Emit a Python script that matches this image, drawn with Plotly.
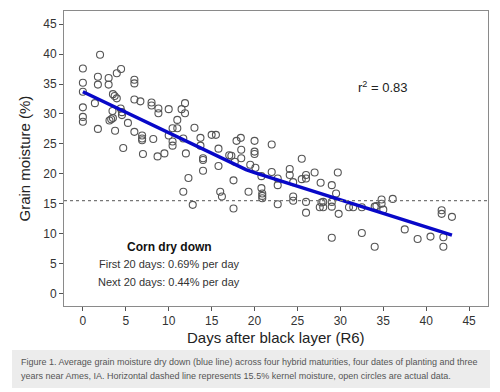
import plotly.graph_objects as go

# Observed data (days after black layer, grain moisture %)
days = [0, 0, 0, 0, 0, 0,
        1.4, 1.75, 1.75, 1.75, 2.0, 3.0, 3.0, 3.1, 3.3, 3.45, 3.5, 3.5, 3.7, 3.75,
        3.95, 3.95, 4.45, 4.4, 4.55, 4.55, 4.7, 5.25,
        6.0, 6.0, 6.0, 6.0, 6.7, 6.9, 6.9, 6.9, 7.0,
        8.0, 8.0, 8.2, 8.8, 8.8, 8.7, 9.5,
        10.0, 10.0, 10.45, 10.45, 10.45, 11.0, 11.0, 11.5, 11.9, 11.9, 11.7, 11.7,
        12.0, 12.3, 12.8, 13.0, 13.7, 13.7, 14.0, 14.0, 14.0,
        15.0, 15.5, 15.8, 15.8, 16.0, 16.2, 17.05, 17.3, 17.55, 17.55, 17.7, 17.9,
        18.4, 18.45, 18.45, 19.3, 19.5, 20.0, 20.0, 20.0, 20.1,
        20.8, 20.8, 20.9, 20.9, 20.9, 22.0, 22.0, 22.7, 22.7, 22.7,
        24.1, 24.1, 24.5, 24.5, 24.5, 25.5, 25.5, 26.0, 26.0, 26.0, 26.0,
        27.0, 27.7, 27.6, 27.8, 28.0, 28.0, 29.0, 29.0, 29.0, 29.0, 29.5, 29.7, 29.8,
        31.0, 31.5, 32.5, 32.5, 34.0, 34.0, 34.2, 34.8, 34.8, 35.0, 36.1,
        37.5, 39.0, 40.5, 41.8, 41.8, 42.0, 42.0, 43.0]
moisture = [37.6, 35.2, 33.7, 31.1, 29.5, 28.7,
            31.8, 36.2, 34.9, 27.5, 39.9, 36.0, 34.9, 28.9, 29.1, 30.5, 33.3, 29.3, 33.0, 27.2,
            32.6, 36.8, 37.5, 30.9, 30.3, 29.8, 24.3, 28.5,
            35.7, 35.1, 32.4, 27.0, 32.1, 26.4, 25.9, 25.6, 23.3,
            31.9, 31.4, 25.8, 30.9, 30.1, 22.9, 23.4,
            30.8, 26.4, 27.6, 25.4, 24.7, 29.0, 27.6, 30.8, 31.8, 30.1, 25.9, 17.0,
            23.4, 19.3, 14.8, 27.7, 26.0, 24.7, 22.6, 22.3, 20.5,
            26.5, 26.5, 24.2, 21.3, 17.0, 16.2, 23.1, 23.0, 18.9, 14.2, 22.0, 25.5,
            26.0, 24.0, 22.6, 17.0, 21.5, 25.5, 23.7, 23.3, 21.0,
            19.6, 17.6, 16.7, 16.3, 15.9, 24.9, 20.3, 19.2, 18.1, 14.9,
            20.8, 19.8, 18.6, 16.2, 15.5, 22.5, 19.1, 19.2, 19.8, 15.3, 13.5,
            20.2, 18.5, 14.4, 15.2, 15.3, 14.4, 18.1, 15.3, 14.5, 9.3, 16.7, 20.2, 13.3,
            14.4, 14.4, 14.4, 10.1, 14.5, 7.8, 14.6, 15.7, 15.0, 14.0, 15.8,
            10.7, 9.1, 9.5, 13.9, 13.3, 9.4, 7.8, 12.8]

# Average dry-down curve (blue line)
fit_days = [0, 17, 18, 19, 20, 21, 43]
fit_moisture = [33.7, 22.0, 21.3, 20.7, 20.2, 19.75, 9.75]

threshold = 15.5
x_ticks = [0, 5, 10, 15, 20, 25, 30, 35, 40, 45]
y_ticks = [0, 5, 10, 15, 20, 25, 30, 35, 40, 45]

x_title = "Days after black layer (R6)"
y_title = "Grain moisture (%)"
caption_lines = [
    "Figure 1. Average grain moisture dry down (blue line) across four hybrid maturities, four dates of planting and three",
    "years near Ames, IA. Horizontal dashed line represents 15.5% kernel moisture, open circles are actual data.",
]

FONT = "Liberation Sans, Arial, Helvetica, sans-serif"

fig = go.Figure()
fig.add_trace(go.Scatter(
    x=days, y=moisture, mode="markers",
    marker=dict(symbol="circle-open", size=7, color="#555555", line=dict(width=1.1, color="#555555")),
    showlegend=False, hoverinfo="x+y"))
fig.add_trace(go.Scatter(
    x=fit_days, y=fit_moisture, mode="lines",
    line=dict(color="#0808c8", width=3.5),
    showlegend=False))

fig.add_hline(y=threshold, line=dict(color="#777777", width=1.2, dash="dot"))

axis_common = dict(
    showline=True, linecolor="#8a8a8a", linewidth=1, mirror=True,
    ticks="outside", ticklen=4, tickcolor="#555555", tickwidth=1,
    showgrid=False, zeroline=False, automargin=False,
    tickfont=dict(family=FONT, size=12, color="#333333"),
)

fig.update_xaxes(range=[-2.2, 47.2], tickvals=x_ticks, **axis_common)
fig.update_yaxes(range=[-2.1, 47.2], tickvals=y_ticks, **axis_common)

# Axis titles
fig.add_annotation(xref="paper", yref="paper", x=0.501, y=-0.106, text=x_title,
                   showarrow=False, xanchor="center", yanchor="middle",
                   font=dict(family=FONT, size=15, color="#222222"))
fig.add_annotation(xref="paper", yref="paper", x=-0.092, y=0.5, text=y_title, textangle=-90,
                   showarrow=False, xanchor="center", yanchor="middle",
                   font=dict(family=FONT, size=15, color="#222222"))

fig.add_annotation(x=35.0, y=34.5, text="r<sup>2</sup> = 0.83", showarrow=False,
                   font=dict(family=FONT, size=13, color="#222222"))
fig.add_annotation(x=10.05, y=7.8, text="<b>Corn dry down</b>", showarrow=False,
                   font=dict(family=FONT, size=12, color="#111111"))
fig.add_annotation(x=10.05, y=4.9, text="First 20 days: 0.69% per day", showarrow=False,
                   font=dict(family=FONT, size=11, color="#333333"))
fig.add_annotation(x=10.05, y=1.95, text="Next 20 days: 0.44% per day", showarrow=False,
                   font=dict(family=FONT, size=11, color="#333333"))

# Caption box
fig.add_shape(type="rect", xref="paper", yref="paper",
              x0=-0.1226, x1=1.0047, y0=-0.278, y1=-0.149,
              fillcolor="#ececec", line=dict(width=0), layer="below")
fig.add_annotation(xref="paper", yref="paper", x=-0.106, y=-0.19, xanchor="left", yanchor="middle",
                   text=caption_lines[0],
                   showarrow=False, font=dict(family=FONT, size=9, color="#555555"))
fig.add_annotation(xref="paper", yref="paper", x=-0.106, y=-0.237, xanchor="left", yanchor="middle",
                   text=caption_lines[1],
                   showarrow=False, font=dict(family=FONT, size=9, color="#555555"))

fig.update_layout(
    width=500, height=392,
    margin=dict(l=64, r=12, t=11, b=86),
    paper_bgcolor="white", plot_bgcolor="white",
    font=dict(family=FONT),
)

fig.write_html("out.html", config={"displayModeBar": False},
               post_script="document.body.style.margin='0';document.body.style.overflow='hidden';")
